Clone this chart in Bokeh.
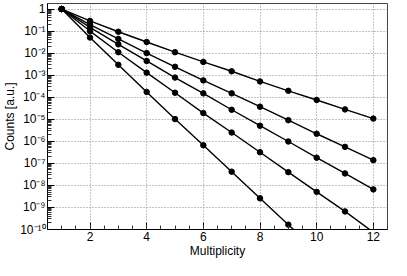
from bokeh.plotting import figure
from bokeh.models import FixedTicker, CustomJSTickFormatter
from bokeh.embed import file_html
from bokeh.resources import INLINE

multiplicity = [1, 2, 3, 4, 5, 6, 7, 8, 9, 10, 11, 12]
series_1 = [1, 0.29, 0.093, 0.032, 0.011, 4.0e-3, 1.5e-3, 5.2e-4, 1.95e-4, 7.5e-5, 2.8e-5, 1.07e-5]
series_2 = [1, 0.195, 0.044, 0.01, 2.4e-3, 5.8e-4, 1.5e-4, 3.7e-5, 9.1e-6, 2.2e-6, 5.6e-7, 1.4e-7]
series_3 = [1, 0.148, 0.025, 4.4e-3, 7.8e-4, 1.5e-4, 2.7e-5, 5.1e-6, 9.8e-7, 1.8e-7, 3.5e-8, 6.6e-9]
series_4 = [1, 0.1, 0.011, 1.3e-3, 1.6e-4, 1.9e-5, 2.5e-6, 3.2e-7, 4.0e-8, 5.1e-9, 6.6e-10, 7.5e-11]
series_5 = [1, 0.051, 2.95e-3, 1.74e-4, 1.02e-5, 6.6e-7, 4.2e-8, 2.6e-9, 1.66e-10, 1.05e-11]

x_major = [2, 4, 6, 8, 10, 12]
x_minor = [i * 0.5 for i in range(1, 26)]
y_major = [10.0 ** k for k in range(-10, 1)]
y_minor = [m * 10.0 ** k for k in range(-10, 1) for m in range(2, 10)]

FONT = "Liberation Sans"

p = figure(width=391, height=260, y_axis_type="log",
           x_range=(0.5, 12.5), y_range=(1e-10, 1.78),
           output_backend="svg", toolbar_location=None,
           min_border_top=3, min_border_right=4, min_border_left=0, min_border_bottom=0)

p.xaxis.ticker = FixedTicker(ticks=x_major, minor_ticks=x_minor)
p.yaxis.ticker = FixedTicker(ticks=y_major, minor_ticks=y_minor)
p.yaxis.formatter = CustomJSTickFormatter(code="""
const k = Math.round(Math.log10(tick));
if (k === 0) return "1";
const sup = {"-":"\u207b","0":"\u2070","1":"\u00b9","2":"\u00b2","3":"\u00b3","4":"\u2074","5":"\u2075","6":"\u2076","7":"\u2077","8":"\u2078","9":"\u2079"};
return "10" + String(k).split("").map(c => sup[c]).join("");
""")

for ax in (p.xaxis, p.yaxis):
    ax.major_tick_in = 7
    ax.major_tick_out = 0
    ax.minor_tick_in = 4
    ax.minor_tick_out = 0
    ax.major_label_text_font = FONT
    ax.major_label_text_font_size = "12px"
    ax.major_label_text_color = "black"
    ax.axis_label_text_font = FONT
    ax.axis_label_text_font_size = "12px"
    ax.axis_label_text_font_style = "normal"
    ax.axis_label_text_color = "black"
    ax.axis_line_color = "black"
    ax.major_tick_line_color = "black"
    ax.minor_tick_line_color = "#333333"
    ax.major_label_standoff = 2
    ax.axis_label_standoff = 0

p.xaxis.axis_label = "Multiplicity"
p.yaxis.axis_label = "Counts [a.u.]"

for g in (p.xgrid, p.ygrid):
    g.grid_line_color = "#888888"
    g.grid_line_dash = "1 2"
    g.grid_line_width = 1
p.outline_line_color = "#444444"

for s in (series_1, series_2, series_3, series_4, series_5):
    xs = multiplicity[:len(s)]
    p.line(xs, s, line_color="black", line_width=1.4)
    p.scatter(xs, s, size=5.5, fill_color="black", line_color="black")

open("out.html", "w").write(file_html(p, INLINE))
